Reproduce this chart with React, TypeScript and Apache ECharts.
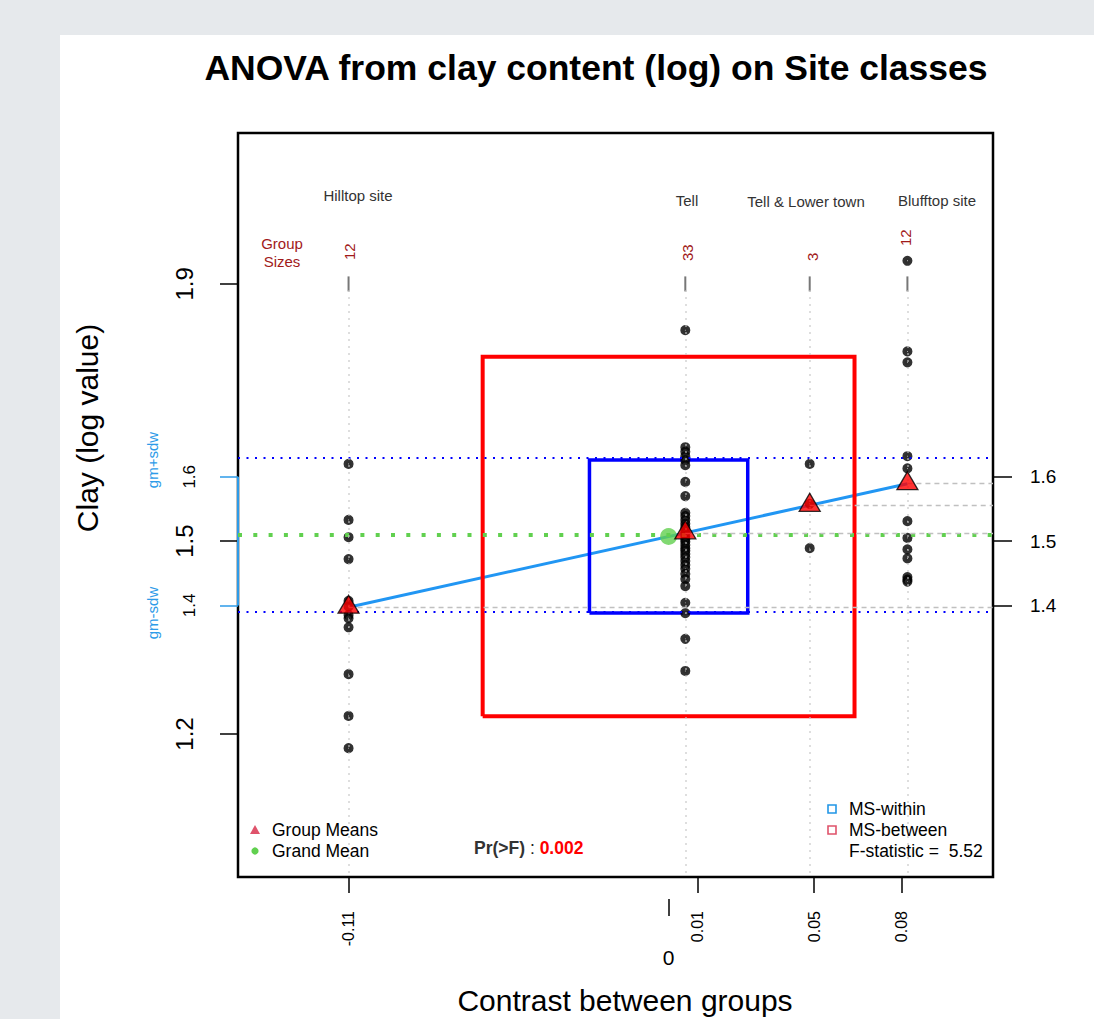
import React, { useEffect, useRef } from 'react';
import * as echarts from 'echarts';

// ---------- data ----------
const groupNames = ['Hilltop site', 'Tell', 'Tell & Lower town', 'Blufftop site'];
const groupSizes = [12, 33, 3, 12];
const hilltopValues = [1.620, 1.533, 1.506, 1.472, 1.407, 1.398, 1.385, 1.380, 1.366, 1.293, 1.228, 1.178];
const tellValues = [1.828, 1.646, 1.639, 1.632, 1.626, 1.618, 1.592, 1.570, 1.544, 1.539, 1.533, 1.527, 1.522,
  1.517, 1.513, 1.508, 1.503, 1.499, 1.494, 1.489, 1.485, 1.480, 1.475, 1.469, 1.463, 1.457, 1.449, 1.441,
  1.430, 1.404, 1.388, 1.348, 1.298];
const tellLowerValues = [1.620, 1.558, 1.489];
const blufftopValues = [1.936, 1.795, 1.778, 1.632, 1.613, 1.531, 1.505, 1.487, 1.473, 1.444, 1.440, 1.437];
const xTickLabels = [-0.11, 0.01, 0.05, 0.08];
const leftMajorTicks = [1.2, 1.5, 1.9];
const leftSdwTicks = [1.4, 1.6];
const rightTicks = [1.4, 1.5, 1.6];
const sdWithin = 0.119;
const fStatistic = 5.52;
const pValue = 0.002;
const withinHalfWidthX = 0.0272;

// ---------- derived ----------
const groupValues = [hilltopValues, tellValues, tellLowerValues, blufftopValues];
const avg = (a: number[]) => a.reduce((s, v) => s + v, 0) / a.length;
const groupMeans = groupValues.map(avg);
const allValues = groupValues.flat();
const grandMean = avg(allValues);
const contrasts = groupMeans.map((m) => m - grandMean);

const X_MIN = -0.148;
const X_MAX = 0.1115;
const Y_MIN = 0.9776;
const Y_MAX = 2.1347;

const FONT = '"Liberation Sans", Arial, Helvetica, sans-serif';

function squarePath(hw: number, hh: number) {
  return [
    [-hw, grandMean - hh],
    [hw, grandMean - hh],
    [hw, grandMean + hh],
    [-hw, grandMean + hh],
    [-hw, grandMean - hh],
  ];
}

export default function App() {
  const ref = useRef<HTMLDivElement>(null);

  useEffect(() => {
    if (!ref.current) return;
    const chart = echarts.init(ref.current, undefined, { renderer: 'svg' });
    const sqF = Math.sqrt(fStatistic);

    const pointData: number[][] = [];
    groupValues.forEach((vals, gi) => vals.forEach((v) => pointData.push([contrasts[gi], v])));

    const order = contrasts.map((c, i) => i).sort((a, b) => contrasts[a] - contrasts[b]);
    const lo = order[0];
    const hi = order[order.length - 1];

    const guideLines: any[] = [
      { yAxis: grandMean + sdWithin, lineStyle: { color: '#0000ff', width: 2, type: [2, 6.5] } },
      { yAxis: grandMean - sdWithin, lineStyle: { color: '#0000ff', width: 2, type: [2, 6.5] } },
      { yAxis: grandMean, lineStyle: { color: '#61D04F', width: 4, type: [4, 11.3] } },
    ];
    contrasts.forEach((c) => {
      guideLines.push([
        { coord: [c, 1.89], lineStyle: { color: '#c4c4c4', width: 1.5, type: [1.5, 5.5] } },
        { coord: [c, Y_MIN] },
      ]);
    });
    groupMeans.forEach((m, i) => {
      guideLines.push([
        { coord: [contrasts[i], m], lineStyle: { color: '#c0c0c0', width: 1.3, type: [5, 4] } },
        { coord: [X_MAX, m] },
      ]);
    });

    const texts: any[] = [];
    const addText = (text: string, x: number, y: number, o: any = {}) => {
      texts.push({
        type: 'text',
        x,
        y,
        rotation: o.rotation || 0,
        z: 100,
        style: {
          text,
          fill: o.fill || '#000',
          fontSize: o.fontSize || 17.5,
          fontFamily: FONT,
          fontWeight: o.fontWeight || 'normal',
          align: o.align || 'center',
          textAlign: o.align || 'center',
          verticalAlign: 'middle',
          textVerticalAlign: 'middle',
          rich: o.rich,
        },
      });
    };

    addText('ANOVA from clay content (log) on Site classes', 596, 68, { fontSize: 35.5, fontWeight: 'bold' });
    addText('Clay (log value)', 87, 428, { fontSize: 30, rotation: Math.PI / 2 });
    addText('Contrast between groups', 625, 1000, { fontSize: 30 });

    const nameX = [358, 687, 806, 937];
    const nameY = [195, 200, 201, 200];
    groupNames.forEach((n, i) => addText(n, nameX[i], nameY[i], { fontSize: 15, fill: '#333' }));

    addText('Group', 282, 243, { fontSize: 15, fill: '#a11a1a' });
    addText('Sizes', 282, 261, { fontSize: 15, fill: '#a11a1a' });
    const sizeX = [349, 687, 812, 905];
    const sizeY = [260, 261, 261, 246];
    groupSizes.forEach((n, i) =>
      addText(String(n), sizeX[i], sizeY[i], { fontSize: 15, fill: '#a11a1a', rotation: Math.PI / 2, align: 'left' })
    );

    addText('gm+sdw', 152, 460, { fontSize: 15, fill: '#2d9be8', rotation: Math.PI / 2 });
    addText('gm-sdw', 152, 613, { fontSize: 15, fill: '#2d9be8', rotation: Math.PI / 2 });

    addText('Group Means', 272, 830, { align: 'left' });
    addText('Grand Mean', 272, 851, { align: 'left' });
    addText('{b|Pr(>F)} : {r|' + pValue.toFixed(3) + '}', 474, 848, {
      align: 'left',
      fill: '#222',
      rich: {
        b: { fontWeight: 'bold', fill: '#333', color: '#333', fontSize: 17.5, fontFamily: FONT },
        r: { fontWeight: 'bold', fill: '#ff0000', color: '#ff0000', fontSize: 17.5, fontFamily: FONT },
      },
    });
    addText('MS-within', 849, 809, { align: 'left' });
    addText('MS-between', 849, 830, { align: 'left' });
    addText('F-statistic =  ' + fStatistic.toFixed(2), 849, 851, { align: 'left' });

    const legendShapes: any[] = [
      { type: 'polygon', z: 100, shape: { points: [[250, 834], [260, 834], [255, 825]] }, style: { fill: '#DF536B' } },
      { type: 'circle', z: 100, shape: { cx: 255, cy: 851, r: 3.6 }, style: { fill: '#61D04F' } },
      { type: 'rect', z: 100, shape: { x: 828, y: 805, width: 8, height: 8 }, style: { fill: 'none', stroke: '#2297E6', lineWidth: 1.6 } },
      { type: 'rect', z: 100, shape: { x: 828, y: 826, width: 8, height: 8 }, style: { fill: 'none', stroke: '#DF536B', lineWidth: 1.6 } },
    ];

    const yBase = {
      type: 'value',
      min: Y_MIN,
      max: Y_MAX,
      axisLine: { show: false, onZero: false },
      splitLine: { show: false },
    };

    chart.setOption({
      animation: false,
      backgroundColor: 'transparent',
      textStyle: { fontFamily: FONT },
      grid: {
        left: 238,
        top: 133,
        width: 755,
        height: 744,
        show: true,
        borderColor: '#000',
        borderWidth: 2.5,
        backgroundColor: 'transparent',
      },
      xAxis: [
        {
          type: 'value',
          min: X_MIN,
          max: X_MAX,
          position: 'bottom',
          axisLine: { show: false, onZero: false },
          splitLine: { show: false },
          axisTick: { show: true, customValues: xTickLabels, length: 16, lineStyle: { color: '#000', width: 1.5 } },
          axisLabel: {
            customValues: xTickLabels,
            rotate: 90,
            margin: 34,
            fontSize: 16,
            color: '#000',
            fontFamily: FONT,
            formatter: (v: number) => v.toFixed(2),
          },
        },
        {
          type: 'value',
          min: X_MIN,
          max: X_MAX,
          position: 'bottom',
          offset: 22,
          axisLine: { show: false, onZero: false },
          splitLine: { show: false },
          axisTick: { show: true, customValues: [0], length: 17, lineStyle: { color: '#000', width: 1.5 } },
          axisLabel: { customValues: [0], margin: 48, fontSize: 21, color: '#000', fontFamily: FONT, formatter: () => '0' },
        },
      ],
      yAxis: [
        {
          ...yBase,
          position: 'left',
          axisTick: { show: true, customValues: leftMajorTicks, length: 18, lineStyle: { color: '#000', width: 1.5 } },
          axisLabel: {
            customValues: leftMajorTicks,
            rotate: 90,
            margin: 42,
            fontSize: 24,
            color: '#000',
            fontFamily: FONT,
            formatter: (v: number) => v.toFixed(1),
          },
        },
        {
          ...yBase,
          position: 'left',
          axisTick: { show: true, customValues: leftSdwTicks, length: 18, lineStyle: { color: '#2d9be8', width: 1.5 } },
          axisLabel: {
            customValues: leftSdwTicks,
            rotate: 90,
            margin: 40,
            fontSize: 17,
            color: '#000',
            fontFamily: FONT,
            formatter: (v: number) => v.toFixed(1),
          },
        },
        {
          ...yBase,
          position: 'right',
          axisTick: { show: true, customValues: rightTicks, length: 19, lineStyle: { color: '#000', width: 1.5 } },
          axisLabel: {
            customValues: rightTicks,
            margin: 37,
            fontSize: 19,
            color: '#000',
            fontFamily: FONT,
            formatter: (v: number) => v.toFixed(1),
          },
        },
      ],
      series: [
        {
          name: 'guides',
          type: 'line',
          z: 1,
          data: [[0, grandMean]],
          showSymbol: false,
          lineStyle: { opacity: 0 },
          markLine: { silent: true, symbol: ['none', 'none'], label: { show: false }, data: guideLines },
        },
        {
          name: 'sdw segment',
          type: 'line',
          z: 2,
          clip: false,
          showSymbol: false,
          data: [[X_MIN, leftSdwTicks[0]], [X_MIN, leftSdwTicks[1]]],
          lineStyle: { color: '#2d9be8', width: 2 },
        },
        {
          name: 'means line',
          type: 'line',
          z: 2,
          showSymbol: false,
          data: [[contrasts[lo], groupMeans[lo]], [contrasts[hi], groupMeans[hi]]],
          lineStyle: { color: '#2196F3', width: 3 },
        },
        {
          name: 'MS-between',
          type: 'line',
          z: 3,
          showSymbol: false,
          data: squarePath(withinHalfWidthX * sqF, sdWithin * sqF),
          lineStyle: { color: '#ff0000', width: 4, join: 'miter' },
        },
        {
          name: 'MS-within',
          type: 'line',
          z: 3,
          showSymbol: false,
          data: squarePath(withinHalfWidthX, sdWithin),
          lineStyle: { color: '#0000ff', width: 3.5, join: 'miter' },
        },
        {
          name: 'group size ticks',
          type: 'scatter',
          z: 4,
          symbol: 'rect',
          symbolSize: [2, 15],
          itemStyle: { color: '#555' },
          data: contrasts.map((c) => [c, 1.9]),
        },
        {
          name: 'points',
          type: 'scatter',
          z: 4,
          symbol: 'circle',
          symbolSize: 5.5,
          itemStyle: { color: '#dddddd', borderColor: '#000', borderWidth: 4.6 },
          data: pointData,
        },
        {
          name: 'Grand Mean',
          type: 'scatter',
          z: 5,
          symbol: 'circle',
          symbolSize: 17,
          itemStyle: { color: '#61D04F' },
          data: [[0, grandMean]],
        },
        {
          name: 'Group Means',
          type: 'scatter',
          z: 6,
          symbol: 'triangle',
          symbolSize: [21, 18],
          symbolOffset: [0, -3],
          itemStyle: { color: '#ff0000', borderColor: '#000', borderWidth: 1.3 },
          data: contrasts.map((c, i) => [c, groupMeans[i]]),
        },
      ],
      graphic: [...legendShapes, ...texts],
    });

    return () => chart.dispose();
  }, []);

  return (
    <div style={{ position: 'fixed', left: 0, top: 0, width: 1094, height: 1019, background: '#e6e9ec' }}>
      <div style={{ position: 'absolute', left: 60, top: 35, right: 0, bottom: 0, background: '#ffffff' }} />
      <div ref={ref} style={{ position: 'absolute', left: 0, top: 0, width: 1094, height: 1019 }} />
    </div>
  );
}
